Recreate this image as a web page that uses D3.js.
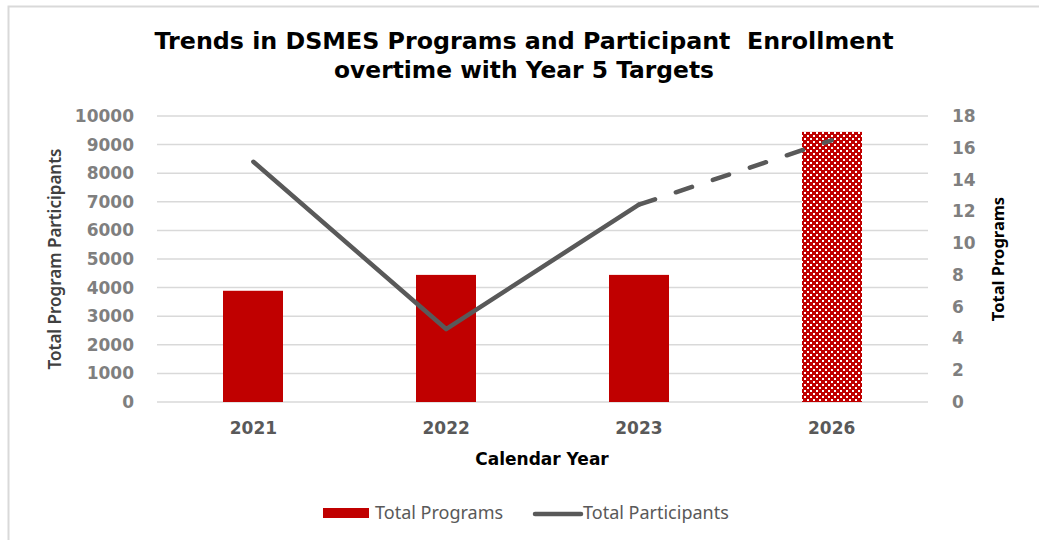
<!DOCTYPE html>
<html>
<head>
<meta charset="utf-8">
<script src="https://cdn.jsdelivr.net/npm/d3@7"></script>
<style>
  html, body { margin: 0; padding: 0; background: #fff; }
  svg { display: block; }
</style>
</head>
<body>
<svg id="chart" width="1039" height="540"></svg>
<script>
// ---- Data ----
const years = ["2021", "2022", "2023", "2026"];
const totalPrograms = [7, 8, 8, 17];
const totalParticipants = [8400, 2550, 6900, 9150];
const targetFlags = [false, false, false, true];   // 2026 = Year 5 target
const leftTicks = [0, 1000, 2000, 3000, 4000, 5000, 6000, 7000, 8000, 9000, 10000];
const rightTicks = [0, 2, 4, 6, 8, 10, 12, 14, 16, 18];
const titleLines = ["Trends in DSMES Programs and Participant\u00A0 Enrollment", "overtime with Year 5 Targets"];

const svg = d3.select("#chart");
const m = { left: 157, right: 928, top: 116, bottom: 402 };
const boldFont = "'DejaVu Sans', sans-serif";

// border
svg.append("rect").attr("x", 8.5).attr("y", 6.5).attr("width", 1100).attr("height", 600)
  .attr("fill", "#fff").attr("stroke", "#d9d9d9").attr("stroke-width", 2);

// pattern for target bar
const defs = svg.append("defs");
const pat = defs.append("pattern").attr("id", "dots").attr("patternUnits", "userSpaceOnUse")
  .attr("x", 0).attr("y", 0).attr("width", 6).attr("height", 6);
pat.append("rect").attr("width", 6).attr("height", 6).attr("fill", "#C00000").attr("shape-rendering", "crispEdges");
pat.append("rect").attr("x", 0).attr("y", 0).attr("width", 2).attr("height", 2).attr("fill", "#fff").attr("shape-rendering", "crispEdges");
pat.append("rect").attr("x", 3).attr("y", 3).attr("width", 2).attr("height", 2).attr("fill", "#fff").attr("shape-rendering", "crispEdges");

// scales
const x = d3.scaleBand().domain(years).range([m.left, m.right]).paddingInner(0).paddingOuter(0);
const yL = d3.scaleLinear().domain([0, 10000]).range([m.bottom, m.top]);
const yR = d3.scaleLinear().domain([0, 18]).range([m.bottom, m.top]);

// title
const titleLens = [739, 380];
titleLines.forEach((t, i) => {
  svg.append("text").attr("text-anchor", "middle").attr("x", 524).attr("y", 49 + i * 29)
    .attr("font-family", boldFont).attr("font-weight", "bold")
    .attr("font-size", 22.5).attr("fill", "#000")
    .attr("textLength", titleLens[i]).attr("lengthAdjust", "spacingAndGlyphs")
    .text(t);
});

// gridlines
svg.append("g").selectAll("line").data(leftTicks).join("line")
  .attr("x1", m.left).attr("x2", m.right)
  .attr("y1", d => yL(d)).attr("y2", d => yL(d))
  .attr("stroke", "#d9d9d9").attr("stroke-width", 1.5);

// left axis
const gL = svg.append("g").attr("transform", `translate(${m.left - 23},0)`)
  .call(d3.axisLeft(yL).tickValues(leftTicks).tickSize(0).tickPadding(0).tickFormat(d3.format("d")));
gL.select(".domain").remove();
gL.selectAll("text").attr("font-family", boldFont)
  .attr("font-weight", "bold").attr("font-size", 17).attr("fill", "#7f7f7f");

// right axis
const gR = svg.append("g").attr("transform", `translate(${m.right + 24},0)`)
  .call(d3.axisRight(yR).tickValues(rightTicks).tickSize(0).tickPadding(0));
gR.select(".domain").remove();
gR.selectAll("text").attr("font-family", boldFont)
  .attr("font-weight", "bold").attr("font-size", 17).attr("fill", "#7f7f7f");

// x axis labels
const gX = svg.append("g").attr("transform", `translate(0,${m.bottom + 20})`)
  .call(d3.axisBottom(x).tickSize(0).tickPadding(0));
gX.select(".domain").remove();
gX.selectAll("text").attr("font-family", boldFont)
  .attr("font-weight", "bold").attr("font-size", 17).attr("fill", "#595959").attr("dy", "0.71em");

// axis titles
svg.append("text").attr("transform", "translate(61,259) rotate(-90)").attr("text-anchor", "middle")
  .attr("font-family", "'Noto Sans', sans-serif").attr("font-weight", "600").attr("font-size", 17)
  .attr("fill", "#404040").text("Total Program Participants");
svg.append("text").attr("transform", "translate(1004,259) rotate(-90)").attr("text-anchor", "middle")
  .attr("font-family", "'Noto Sans', sans-serif").attr("font-weight", "bold").attr("font-size", 16.5)
  .attr("fill", "#000").text("Total Programs");
svg.append("text").attr("x", 542).attr("y", 465).attr("text-anchor", "middle")
  .attr("font-family", boldFont).attr("font-weight", "bold").attr("font-size", 17)
  .attr("fill", "#000").text("Calendar Year");

// bars
const barW = 60;
svg.append("g").selectAll("rect").data(years).join("rect")
  .attr("x", d => Math.round(x(d) + x.bandwidth() / 2 - barW / 2))
  .attr("width", barW)
  .attr("y", (d, i) => yR(totalPrograms[i]))
  .attr("height", (d, i) => yR(0) - yR(totalPrograms[i]))
  .attr("fill", (d, i) => targetFlags[i] ? "url(#dots)" : "#C00000");

// line
const pts = years.map((d, i) => [x(d) + x.bandwidth() / 2, yL(totalParticipants[i]), targetFlags[i]]);
const line = d3.line();
const solidPts = pts.filter(p => !p[2]);
svg.append("path").attr("d", line(solidPts.map(p => [p[0], p[1]])))
  .attr("fill", "none").attr("stroke", "#595959").attr("stroke-width", 4.5)
  .attr("stroke-linejoin", "round").attr("stroke-linecap", "round");
const lastSolid = solidPts[solidPts.length - 1];
const dashPts = [lastSolid].concat(pts.filter(p => p[2]));
svg.append("path").attr("d", line(dashPts.map(p => [p[0], p[1]])))
  .attr("fill", "none").attr("stroke", "#595959").attr("stroke-width", 4.5)
  .attr("stroke-dasharray", "17,22").attr("stroke-linecap", "round");

// legend
const lg = svg.append("g");
lg.append("rect").attr("x", 323).attr("y", 508).attr("width", 46).attr("height", 10).attr("fill", "#C00000");
lg.append("text").attr("x", 375).attr("y", 519).attr("font-family", "'Noto Sans', sans-serif")
  .attr("font-size", 18).attr("fill", "#595959").text("Total Programs");
lg.append("line").attr("x1", 535).attr("x2", 581).attr("y1", 514).attr("y2", 514)
  .attr("stroke", "#595959").attr("stroke-width", 4.5).attr("stroke-linecap", "round");
lg.append("text").attr("x", 583).attr("y", 519).attr("font-family", "'Noto Sans', sans-serif")
  .attr("font-size", 18).attr("fill", "#595959").text("Total Participants");
</script>
</body>
</html>
